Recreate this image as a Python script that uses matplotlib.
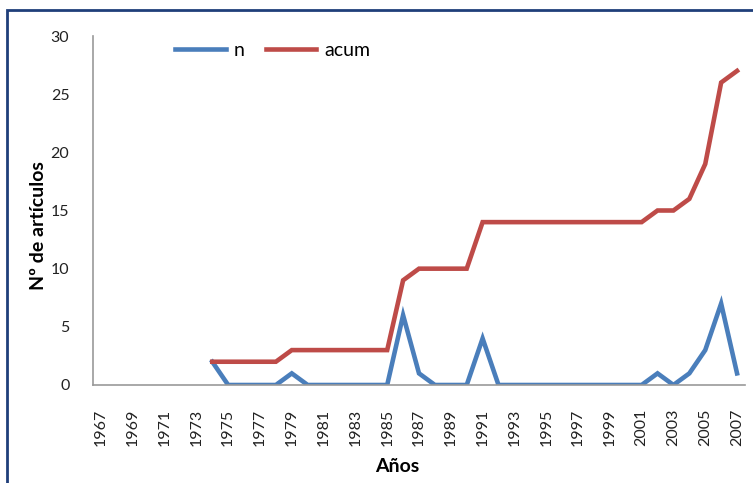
import numpy as np
import matplotlib.pyplot as plt
from matplotlib.patches import Rectangle

plt.rcParams["font.family"] = ["Lato", "DejaVu Sans"]

years = list(range(1967, 2008))
nan = np.nan
# no data before 1974
n = [nan] * 7 + [2, 0, 0, 0, 0, 1, 0, 0, 0, 0, 0, 0, 6, 1, 0, 0, 0, 4, 0, 0,
                 0, 0, 0, 0, 0, 0, 0, 0, 1, 0, 1, 3, 7, 1]
acum = [nan] * 7 + [2, 2, 2, 2, 2, 3, 3, 3, 3, 3, 3, 3, 9, 10, 10, 10, 10, 14, 14, 14,
                    14, 14, 14, 14, 14, 14, 14, 14, 15, 15, 16, 19, 26, 27]
tick_labels = [str(y) for y in years[::2]]

W, H = 753, 483
fig = plt.figure(figsize=(W / 100, H / 100), dpi=100)
ax = fig.add_axes([93 / W, 98 / H, 652 / W, 349 / H])

x = np.arange(len(years))
ax.plot(x, n, color="#4A7EBB", lw=3.3, label="n", solid_joinstyle="miter")
ax.plot(x, acum, color="#BE4B48", lw=3.3, label="acum", solid_joinstyle="miter")

ax.set_xlim(-0.5, len(years) - 0.5)
ax.set_ylim(0, 30)
ax.set_yticks(range(0, 31, 5))
ax.set_xticks(x[::2])
ax.set_xticklabels(tick_labels, rotation=90, va="top")
ax.tick_params(axis="both", length=0, labelsize=11.5, colors="#222222")
ax.tick_params(axis="x", pad=17)
ax.tick_params(axis="y", pad=17)

for s in ["top", "right"]:
    ax.spines[s].set_visible(False)
for s in ["left", "bottom"]:
    ax.spines[s].set_color("#999999")
    ax.spines[s].set_linewidth(1.2)

fig.text(38 / W, 1 - 226 / H, "Nº de artículos", rotation=90, ha="center", va="center",
         fontsize=14, fontweight="bold")
fig.text(397 / W, 1 - 467 / H, "Años", ha="center", va="center",
         fontsize=14, fontweight="bold")

fig.legend(loc="center left", bbox_to_anchor=(175 / W, 1 - 50 / H), ncol=2, frameon=False,
           fontsize=14, handlelength=2.6, columnspacing=1.1, handletextpad=0.4,
           borderpad=0, borderaxespad=0)

fig.patches.append(Rectangle((7 / W, -0.1), 1.2, 1 - 10 / H + 0.1, transform=fig.transFigure,
                             fill=False, edgecolor="#1F3F7A", lw=2))

plt.savefig("out.png", dpi=100)
